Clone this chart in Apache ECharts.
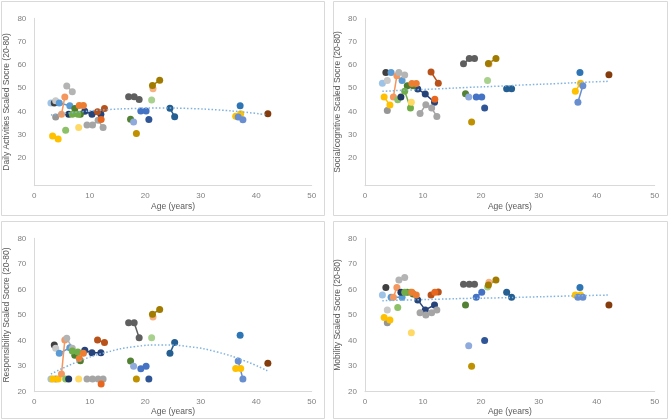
<!DOCTYPE html>
<html>
<head>
<meta charset="utf-8">
<script src="https://cdn.jsdelivr.net/npm/echarts@6/dist/echarts.min.js"></script>
<style>
  html, body { margin: 0; padding: 0; background: #fff; }
  #chart { width: 669px; height: 420px; }
</style>
</head>
<body>
<div id="chart"></div>
<script>
// one entry per participant: visit ages, then the score at each visit for every domain
const subjectAges = [
  [3.0], [3.6], [3.85], [3.85], [4.5, 6.4], [3.3, 4.3], [4.9, 5.5], [5.85, 6.85],
  [5.65], [6.2], [9.1, 10.4, 12.0], [7.3, 8.3], [6.85, 7.85], [8.1, 8.85], [8.0],
  [9.5, 10.5, 11.5, 12.4], [11.4, 12.65], [12.05], [17.0, 18.0, 18.9], [17.35],
  [17.9], [18.4], [19.2, 20.15], [20.65], [21.15], [21.4], [21.3, 22.6],
  [24.45, 25.3], [36.3, 37.2], [37.1], [36.75, 37.6], [42.1]
];
const subjectColors = [
  "#9DC3E6", "#404040", "#C9C9C9", "#969696", "#5B9BD5", "#FFC000", "#F4975E", "#B4B4B4",
  "#8CC168", "#1F3864", "#26437A", "#4E7D2E", "#70AD47", "#ED7D31", "#FFD966",
  "#A5A5A5", "#B8521A", "#E8661E", "#5F5F5F", "#548235",
  "#8FAADC", "#BF9000", "#4472C4", "#2F5597", "#A9D18E", "#F4B183", "#A07B00",
  "#255E91", "#FFC000", "#2E75B6", "#698ED0", "#843C0C"
];
const dailyScores = [
  [43.6], [43.6], [44.5], [37.6], [43.6, 42.4], [29.4, 28.1], [38.7, 46.1], [50.9, 48.4],
  [31.9], [38.7], [40, 38.7, 38.7], [41.2, 38.7], [38.7, 38.7], [42.5, 42.5], [33],
  [34.1, 34.1, 36.2, 33], [39.8, 41.2], [36.5], [46.3, 46.3, 45.1], [36.6],
  [35.4], [30.5], [40.1, 40.1], [36.5], [44.9], [49.7], [51.1, 53.4],
  [41.3, 37.7], [37.9, 38.9], [42.4], [37.6, 36.4], [38.9]
];
const socialScores = [
  [52.1], [56.7], [53.3], [40.3], [56.7, 53.3], [46.1, 42.7], [46.1, 55.3], [56.7, 55.6],
  [45], [46.1], [49.6, 47.4, 43.9], [51, 51], [48.6, 41.4], [52, 52], [43.9],
  [39.1, 42.8, 41.4, 37.8], [56.9, 52.1], [45.2], [60.4, 62.7, 62.7], [47.5],
  [46.1], [35.4], [46.1, 46.1], [41.4], [53.2], [60.3], [60.6, 62.7],
  [49.7, 49.7], [48.6, 52.1], [56.7], [43.9, 51], [55.7]
];
const responsibilityScores = [
  [25], [38.3], [37], [25], [35, 37.2], [25, 25], [26.9, 40.2], [40.9, 37],
  [25], [25], [36.2, 35.2, 35.2], [34.3, 32.1], [35.9, 35.5], [33, 35], [25],
  [25, 25, 25, 25], [40.2, 39.2], [23], [47, 47, 41.1], [32],
  [30], [25], [29, 30], [25], [41.1], [49.2], [50.3, 52.2],
  [35, 39.2], [29.1, 29.1], [42.1], [32, 25], [31.1]
];
const mobilityScores = [
  [57.8], [60.8], [52], [47], [56.9, 56.9], [49, 48], [56.9, 60.8], [63.7, 64.7],
  [52.9], [58.9], [55.9, 52, 53.9], [58.9, 58.2], [58.9, 58.9], [58.9, 57.8], [43.1],
  [50.9, 50, 50.9, 52], [57.8, 59], [58.9], [62, 62, 62], [53.9],
  [38], [30], [56.9, 58.9], [40], [61], [62.8], [61.7, 63.7],
  [58.9, 56.9], [57.8, 57.8], [60.8], [56.9, 56.9], [53.9]
];

// dotted trend lines
const trendAges = [3, 8, 13, 18, 23, 28, 33, 38, 42];
const dailyTrend = [38.4, 39.7, 40.7, 41.2, 41.4, 41.2, 40.6, 39.6, 38.5];
const socialTrend = [48.6, 49.2, 49.7, 50.3, 50.8, 51.4, 51.9, 52.5, 52.9];
const responsibilityTrend = [26.9, 31.9, 35.4, 37.6, 38.3, 37.6, 35.5, 32.0, 28.2];
const mobilityTrend = [55.6, 55.9, 56.2, 56.5, 56.7, 57.0, 57.3, 57.6, 57.8];

const ageTicks = [0, 10, 20, 30, 40, 50];
const scoreTicks = [20, 30, 40, 50, 60, 70, 80];

const FONT = "Liberation Sans, Arial, sans-serif";

const panels = [
  { title: "Daily Activities Scaled Socre (20-80)", scores: dailyScores, trend: dailyTrend,
    grid: { left: 34.3, top: 18.3, width: 277.4, height: 167.4 }, yMin: 8, nameGap: 16.5,
    box: [1.5, 1.5, 323, 214] },
  { title: "Social/cognitive Scaled Socre (20-80)", scores: socialScores, trend: socialTrend,
    grid: { left: 365, top: 18.3, width: 289.7, height: 167.4 }, yMin: 8, nameGap: 16.5,
    box: [333.5, 1.5, 334, 214] },
  { title: "Responsibility Scaled Socre (20-80)", scores: responsibilityScores, trend: responsibilityTrend,
    grid: { left: 34.3, top: 238.3, width: 277.4, height: 153.4 }, yMin: 20, nameGap: 15.5,
    box: [1.5, 221.5, 323, 197] },
  { title: "Mobility Scaled Socre (20-80)", scores: mobilityScores, trend: mobilityTrend,
    grid: { left: 365, top: 238.3, width: 289.7, height: 153.4 }, yMin: 20, nameGap: 15.5,
    box: [333.5, 221.5, 334, 197] }
];

const chart = echarts.init(document.getElementById("chart"), null, { renderer: "canvas" });

const grids = [];
const xAxes = [];
const yAxes = [];
const series = [];
const graphics = [];

panels.forEach((panel, p) => {
  grids.push(Object.assign({ containLabel: false }, panel.grid));
  graphics.push({
    type: "rect",
    shape: { x: panel.box[0], y: panel.box[1], width: panel.box[2], height: panel.box[3] },
    style: { fill: null, stroke: "#D9D9D9", lineWidth: 1 },
    silent: true,
    z: -1
  });
  xAxes.push({
    gridIndex: p,
    type: "value",
    min: 0,
    max: 50,
    interval: 10,
    name: "Age (years)",
    nameLocation: "middle",
    nameGap: panel.nameGap,
    nameTextStyle: { color: "#595959", fontSize: 8.5, fontFamily: FONT },
    axisLine: { show: true, lineStyle: { color: "#D9D9D9", width: 1 } },
    axisTick: { show: false },
    splitLine: { show: false },
    axisLabel: { color: "#808080", fontSize: 8, fontFamily: FONT, margin: 6,
      customValues: ageTicks }
  });
  yAxes.push({
    gridIndex: p,
    type: "value",
    min: panel.yMin,
    max: 80,
    name: panel.title,
    nameLocation: "middle",
    nameRotate: 90,
    nameGap: 23,
    nameTextStyle: { color: "#595959", fontSize: 8.5, fontFamily: FONT },
    axisLine: { show: true, onZero: false, lineStyle: { color: "#D9D9D9", width: 1 } },
    axisTick: { show: false },
    splitLine: { show: false },
    axisLabel: { color: "#808080", fontSize: 8, fontFamily: FONT, margin: 8,
      customValues: scoreTicks }
  });

  subjectAges.forEach((ages, s) => {
    series.push({
      type: "line",
      xAxisIndex: p,
      yAxisIndex: p,
      data: ages.map((age, i) => [age, panel.scores[s][i]]),
      symbol: "circle",
      symbolSize: 7,
      showSymbol: true,
      color: subjectColors[s],
      itemStyle: { color: subjectColors[s] },
      lineStyle: { color: subjectColors[s], width: 1.5 },
      z: 3
    });
  });

  series.push({
    type: "line",
    xAxisIndex: p,
    yAxisIndex: p,
    data: trendAges.map((age, i) => [age, panel.trend[i]]),
    smooth: true,
    symbol: "none",
    lineStyle: { color: "#7FB2E0", width: 1.5, type: [1.5, 2] },
    z: 4
  });
});

chart.setOption({
  animation: false,
  backgroundColor: "#ffffff",
  grid: grids,
  xAxis: xAxes,
  yAxis: yAxes,
  series,
  graphic: graphics
});
</script>
</body>
</html>
